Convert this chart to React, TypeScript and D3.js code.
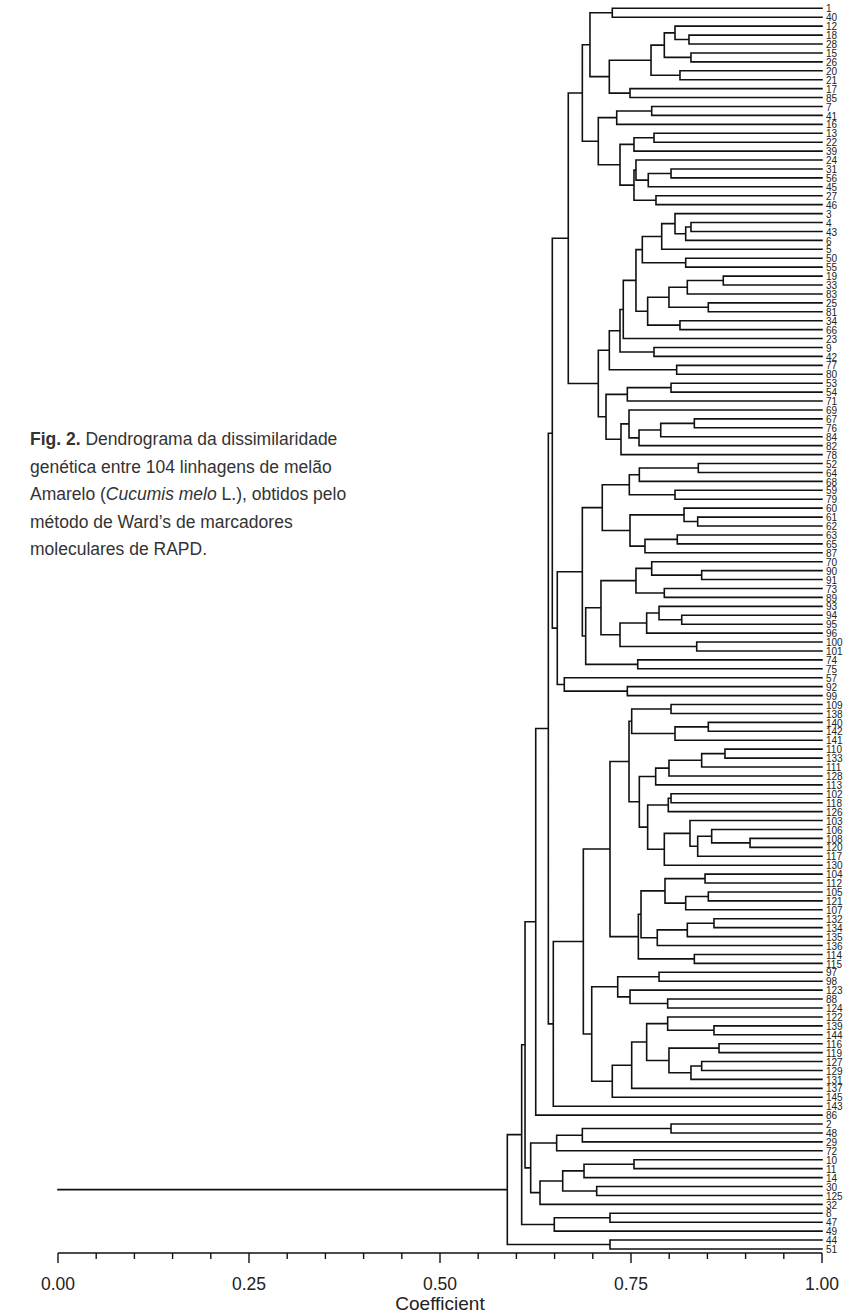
import React from "react";
import * as d3 from "d3";

// A cluster is either a leaf label or [fusion coefficient, upper branch, lower branch].
type Cluster = string | [number, Cluster, Cluster];

// Group 1: lines 1 … 46
const groupA: Cluster = [0.6863,
  [0.6963,
    [0.7255, "1", "40"],
    [0.7216,
      [0.7762,
        [0.7936, [0.8076, "12", [0.8259, "18", "28"]], [0.8285, "15", "26"]],
        [0.8141, "20", "21"]],
      [0.7487, "17", "85"]]],
  [0.7072,
    [0.7313, [0.7771, "7", "41"], "16"],
    [0.7356,
      [0.7539, [0.7801, "13", "22"], "39"],
      [0.7539,
        [0.7565, "24", [0.7726, [0.8024, "31", "56"], "45"]],
        [0.7827, "27", "46"]]]]];

// Group 2: lines 3 … 78
const groupC: Cluster = [0.7072,
  [0.7216,
    [0.7356,
      [0.7399,
        [0.7565,
          [0.7648,
            [0.7902, [0.8076, "3", [0.8216, [0.8285, "4", "43"], "6"]], "5"],
            [0.8216, "50", "55"]],
          [0.7718,
            [0.7997, [0.8237, [0.8708, "19", "33"], "83"], [0.8512, "25", "81"]],
            [0.8141, "34", "66"]]],
        "23"],
      [0.7801, "9", "42"]],
    [0.8098, "77", "80"]],
  [0.7173,
    [0.7452, [0.8024, "53", "54"], "71"],
    [0.7369,
      [0.7474, "69", [0.7605, [0.7889, [0.8329, "67", "76"], "84"], "82"]],
      "78"]]];

// Group 3: lines 52 … 75
const groupE: Cluster = [0.6863,
  [0.7124,
    [0.7478, [0.7609, [0.8381, "52", "64"], "68"], [0.8076, "59", "79"]],
    [0.7487,
      [0.8194, "60", [0.8373, "61", "62"]],
      [0.7683, [0.8106, "63", "65"], "87"]]],
  [0.6907,
    [0.7107,
      [0.7565, [0.7771, "70", [0.8425, "90", "91"]], [0.7936, "73", "89"]],
      [0.7356,
        [0.7705, [0.7867, "93", [0.8164, "94", "95"]], "96"],
        [0.8360, "100", "101"]]],
    [0.7588, "74", "75"]]];

// Group 4: lines 57, 92, 99
const groupF: Cluster = [0.6627, "57", [0.7452, "92", "99"]];

// Group 5: lines 109 … 145
const groupH: Cluster = [0.6876,
  [0.7225,
    [0.7474,
      [0.7509, [0.8024, "109", "138"], [0.8076, [0.8512, "140", "142"], "141"]],
      [0.7609,
        [0.7823, [0.7997, [0.8425, [0.8730, "110", "133"], "111"], "128"], "113"],
        [0.7718,
          [0.7988, [0.8024, "102", "118"], "126"],
          [0.7936,
            [0.8272, "103", [0.8373, [0.8556, "106", [0.9058, "108", "120"]], "117"]],
            "130"]]]],
    [0.7596,
      [0.7631,
        [0.7945, [0.8469, "104", "112"], [0.8216, [0.8512, "105", "121"], "107"]],
        [0.7844, [0.8237, [0.8586, "132", "134"], "135"], "136"]],
      [0.8329, "114", "115"]]],
  [0.6986,
    [0.7326, [0.7867, "97", "98"], [0.7487, "123", [0.7980, "88", "124"]]],
    [0.7255,
      [0.7509,
        [0.7705,
          [0.7980, "122", [0.8586, "139", "144"]],
          [0.7997, [0.8652, "116", "119"], [0.8285, [0.8425, "127", "129"], "131"]]],
        "137"],
      "145"]]];

// Group 6: lines 2 … 51
const groupM: Cluster = [0.6187,
  [0.6527, [0.6863, [0.8024, "2", "48"], "29"], "72"],
  [0.6309,
    [0.6606, [0.6885, [0.7539, "10", "11"], "14"], [0.7051, "30", "125"]],
    "32"]];
const groupN: Cluster = [0.6496, [0.7225, "8", "47"], "49"];
const groupZ: Cluster = [0.7225, "44", "51"];

const tree: Cluster = [0.5881,
  [0.6069,
    [0.6113,
      [0.6253,
        [0.6418,
          [0.6470, [0.6679, groupA, groupC], [0.6535, groupE, groupF]],
          [0.6483, groupH, "143"]],
        "86"],
      groupM],
    groupN],
  groupZ];

const majorTicks = [0, 0.25, 0.5, 0.75, 1];
const minorTicks = [0.05, 0.1, 0.15, 0.2, 0.3, 0.35, 0.4, 0.45, 0.55, 0.6, 0.65, 0.7, 0.8, 0.85, 0.9, 0.95];

const captionLines = [
  [{ t: "Fig. 2.", b: true }, { t: " Dendrograma da dissimilaridade" }],
  [{ t: "genética entre 104 linhagens de melão" }],
  [{ t: "Amarelo (" }, { t: "Cucumis melo", i: true }, { t: " L.), obtidos pelo" }],
  [{ t: "método de Ward’s de marcadores" }],
  [{ t: "moleculares de RAPD." }],
];

const W = 856;
const H = 1313;
const axisY = 1253;

function leavesOf(c: Cluster): string[] {
  return typeof c === "string" ? [c] : [...leavesOf(c[1]), ...leavesOf(c[2])];
}

export default function App() {
  const x = d3.scaleLinear().domain([0, 1]).range([58, 822]);
  const leaves = leavesOf(tree);
  const y = d3.scalePoint<string>().domain(leaves).range([8.3, 1249]);

  const path = d3.path();
  const posY = (c: Cluster): number =>
    typeof c === "string" ? (y(c) as number) : (posY(c[1]) + posY(c[2])) / 2;
  const height = (c: Cluster): number => (typeof c === "string" ? 1 : c[0]);

  const walk = (c: Cluster) => {
    if (typeof c === "string") return;
    const hx = x(c[0]);
    const y1 = posY(c[1]);
    const y2 = posY(c[2]);
    path.moveTo(hx, y1);
    path.lineTo(hx, y2);
    path.moveTo(hx, y1);
    path.lineTo(x(height(c[1])), y1);
    path.moveTo(hx, y2);
    path.lineTo(x(height(c[2])), y2);
    walk(c[1]);
    walk(c[2]);
  };
  walk(tree);
  // stem of the root down to zero
  const rootY = posY(tree);
  path.moveTo(x(0), rootY);
  path.lineTo(x(height(tree)), rootY);

  return (
    <svg width={W} height={H} style={{ position: "absolute", left: 0, top: 0, background: "#fff" }}
      fontFamily="'Liberation Sans', Arial, sans-serif">
      <rect width={W} height={H} fill="#fff" />
      <path d={path.toString()} fill="none" stroke="#111" strokeWidth={1.6} strokeLinecap="square" />
      <g fontSize={10} fill="#222">
        {leaves.map((l) => (
          <text key={l} x={826} y={(y(l) as number) + 1.5} dominantBaseline="middle">{l}</text>
        ))}
      </g>
      <g stroke="#111" strokeWidth={1.4}>
        <line x1={x(0)} x2={x(1)} y1={axisY} y2={axisY} />
        {majorTicks.map((t) => (
          <line key={"M" + t} x1={x(t)} x2={x(t)} y1={axisY} y2={axisY + 10} />
        ))}
        {minorTicks.map((t) => (
          <line key={"m" + t} x1={x(t)} x2={x(t)} y1={axisY} y2={axisY + 6} />
        ))}
      </g>
      <g fontSize={17.5} fill="#222" textAnchor="middle">
        {majorTicks.map((t) => (
          <text key={t} x={x(t)} y={1290}>{d3.format(".2f")(t)}</text>
        ))}
        <text x={x(0.5)} y={1310} fontSize={19}>Coefficient</text>
      </g>
      <g fontSize={17.5} fill="#333">
        {captionLines.map((line, i) => (
          <text key={i} x={30} y={445 + i * 27.5}>
            {line.map((s: any, j) => (
              <tspan key={j} fontWeight={s.b ? "bold" : "normal"} fontStyle={s.i ? "italic" : "normal"}>{s.t}</tspan>
            ))}
          </text>
        ))}
      </g>
    </svg>
  );
}
